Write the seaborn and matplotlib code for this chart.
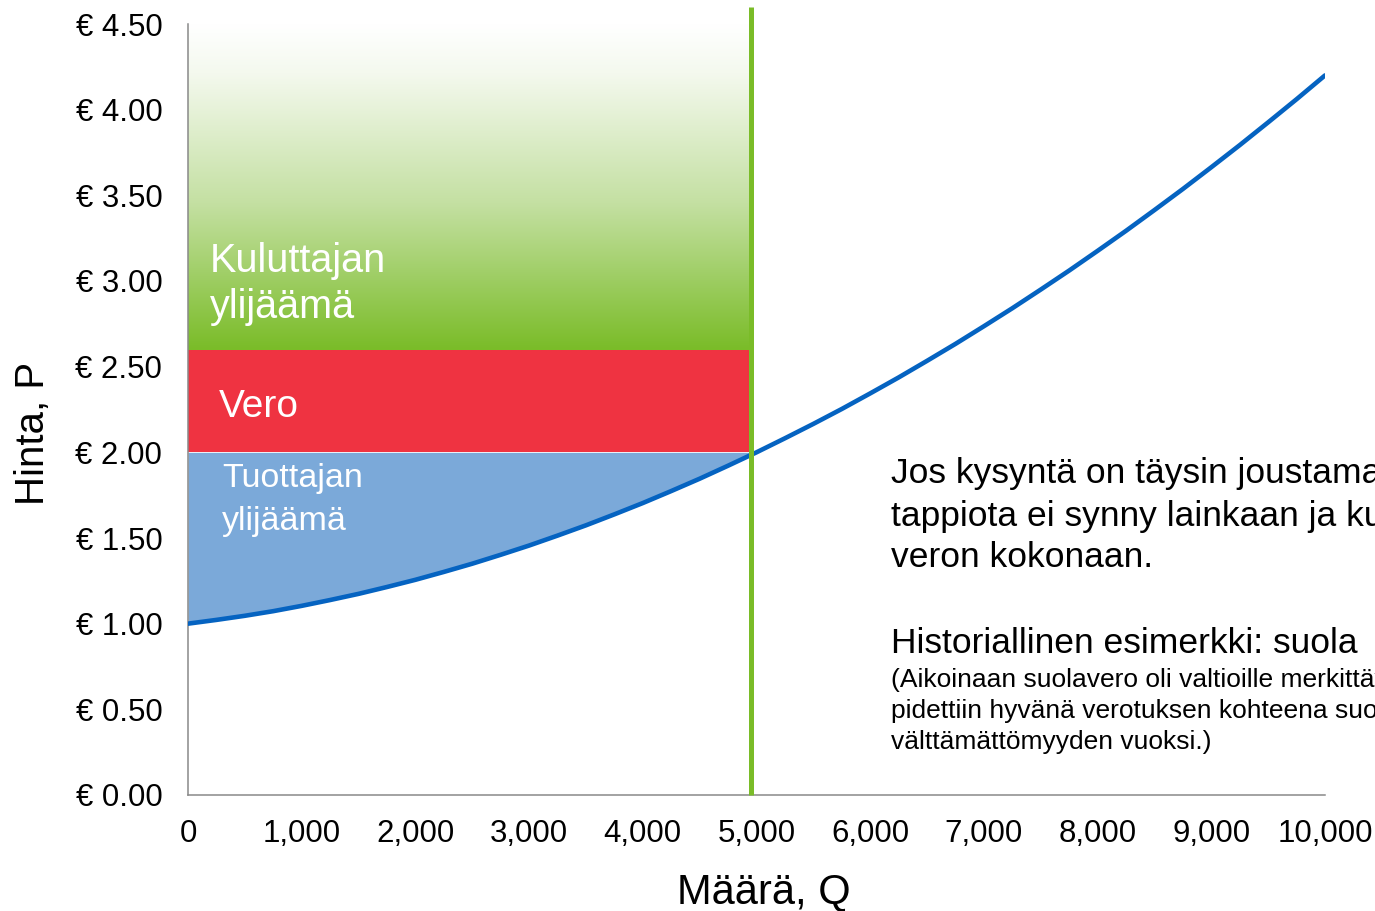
import numpy as np
import matplotlib
matplotlib.use("Agg")
import matplotlib.pyplot as plt
from matplotlib.colors import LinearSegmentedColormap
import pandas as pd
import seaborn as sns

# supply curve (quantity, price in €)
quantity = [0, 250, 500, 750, 1000, 1250, 1500, 1750, 2000, 2250, 2500,
            2750, 3000, 3250, 3500, 3750, 4000, 4250, 4500, 4750, 5000,
            5250, 5500, 5750, 6000, 6250, 6500, 6750, 7000, 7250, 7500,
            7750, 8000, 8250, 8500, 8750, 9000, 9250, 9500, 9750, 10000]
price = [1.000, 1.022, 1.046, 1.073, 1.104, 1.138, 1.174, 1.214, 1.256,
         1.302, 1.350, 1.402, 1.456, 1.514, 1.574, 1.638, 1.704, 1.774,
         1.846, 1.922, 2.000, 2.082, 2.166, 2.253, 2.344, 2.437, 2.534,
         2.633, 2.736, 2.841, 2.950, 3.061, 3.176, 3.293, 3.414, 3.537,
         3.664, 3.793, 3.926, 4.061, 4.200]

q_eq = 4950          # quantity with the tax (green vertical line)
p_seller = 2.00      # price the producer gets
p_buyer = 2.60       # price the consumer pays
p_top = 4.50

y_ticks = [0, 0.5, 1.0, 1.5, 2.0, 2.5, 3.0, 3.5, 4.0, 4.5]
x_ticks = [0, 1000, 2000, 3000, 4000, 5000, 6000, 7000, 8000, 9000, 10000]

note_main = ["Jos kysyntä on täysin joustamaton, tehokkuus-",
             "tappiota ei synny lainkaan ja kuluttajat maksavat",
             "veron kokonaan."]
note_title = "Historiallinen esimerkki: suola"
note_small = ["(Aikoinaan suolavero oli valtioille merkittävä tulonlähde. Suola",
              "pidettiin hyvänä verotuksen kohteena suolan",
              "välttämättömyyden vuoksi.)"]

BLUE_LINE = "#0563C1"
BLUE_FILL = "#7BA9D9"
RED = "#EF3341"
GREEN = "#7ABC28"
GREY = "#898989"

sns.set_theme(style="white")
plt.rcParams["font.family"] = ["Liberation Sans", "DejaVu Sans"]
plt.rcParams["text.color"] = "black"

df = pd.DataFrame({"Q": quantity, "P": price})

fig = plt.figure(figsize=(13.75, 9.11), dpi=100)
ax = fig.add_axes([188 / 1375, 1 - 795 / 911, (1325 - 188) / 1375, (795 - 24) / 911])

# producer surplus: between supply curve and seller price
q = np.array(quantity, dtype=float)
p = np.array(price, dtype=float)
ax.fill_between(q, p, p_seller, where=(q <= 5000), interpolate=True,
                color=BLUE_FILL, linewidth=0, zorder=1)
# tax
ax.fill_between([0, q_eq], p_seller, p_buyer, color=RED, linewidth=0, zorder=1)
# consumer surplus, gradient green (bottom) -> white (top)
cmap = LinearSegmentedColormap.from_list(
    "cs", [(0, "white"), (0.15, "#f4f9ee"), (0.55, "#c4e0a2"), (1, GREEN)])
grad = np.linspace(1, 0, 256).reshape(-1, 1)
ax.imshow(grad, cmap=cmap, aspect="auto", extent=[0, q_eq, p_buyer, p_top],
          origin="lower", zorder=1, interpolation="bicubic")

sns.lineplot(data=df, x="Q", y="P", color=BLUE_LINE, linewidth=3.3, ax=ax,
             zorder=3)
ax.plot([q_eq, q_eq], [0, 4.6], color=GREEN, linewidth=3.6, zorder=4,
        clip_on=False, solid_capstyle="butt")

ax.set_xlim(0, 10000)
ax.set_ylim(0, 4.5)
ax.set_xticks(x_ticks)
ax.set_yticks(y_ticks)
ax.set_xticklabels([f"{v:,.0f}" for v in x_ticks])
ax.set_yticklabels([f"€ {v:.2f}" for v in y_ticks])
ax.set_xlabel("")
ax.set_ylabel("")
ax.tick_params(axis="both", labelsize=22.5, colors=GREY, labelcolor="black",
               length=6.5, width=1.1, direction="out")
ax.tick_params(axis="y", pad=12)
ax.tick_params(axis="x", pad=11)
sns.despine(ax=ax)
for side in ("left", "bottom"):
    ax.spines[side].set_color(GREY)
    ax.spines[side].set_linewidth(1.1)
ax.set_facecolor("white")

fig.text(33 / 1375, 1 - 433 / 911, "Hinta, P", rotation=90, fontsize=29,
         ha="center", va="center")
fig.text(764 / 1375, 1 - 903 / 911, "Määrä, Q", fontsize=30,
         ha="center", va="baseline")


# area labels and notes, placed by baseline
def ftext(x, y, s, **kw):
    fig.text(x / 1375, 1 - y / 911, s, va="baseline", **kw)


ftext(210, 272, "Kuluttajan", color="white", fontsize=28.5)
ftext(210, 318, "ylijäämä", color="white", fontsize=28.5)
ftext(219, 417, "Vero", color="white", fontsize=28)
ftext(222, 487, "Tuottajan", color="white", fontsize=24.5)
ftext(222, 530, "ylijäämä", color="white", fontsize=24.5)

for s, y in zip(note_main, [483, 526, 567]):
    ftext(891, y, s, fontsize=25.5)
ftext(891, 653, note_title, fontsize=25.5)
for s, y in zip(note_small, [687, 718, 749]):
    ftext(891, y, s, fontsize=19)

fig.savefig("out.png", dpi=100)
